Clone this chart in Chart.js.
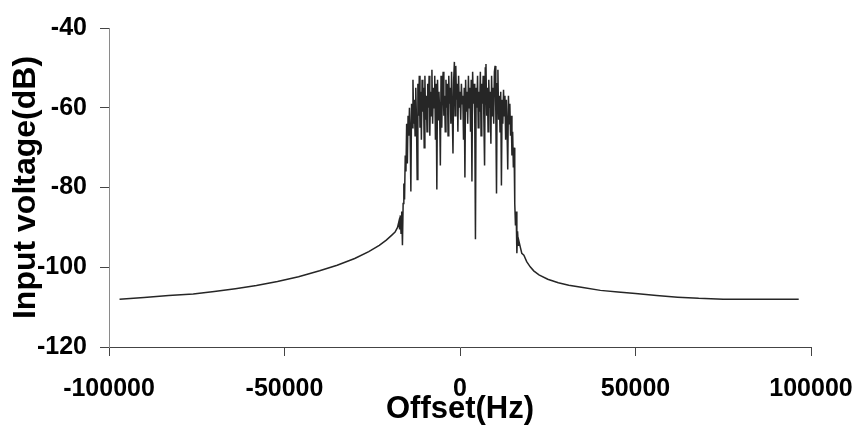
<!DOCTYPE html>
<html>
<head>
<meta charset="utf-8">
<script src="https://cdn.jsdelivr.net/npm/chart.js@4"></script>
<style>
  html, body { margin: 0; padding: 0; background: #fff; }
  #wrap { width: 854px; height: 435px; }
</style>
</head>
<body>
<div id="wrap"><canvas id="spectrumChart" width="854" height="435"></canvas></div>
<script>
// offsets in Hz, values in dB
const tailLeftHz = [-97000, -90000, -83000, -76000, -70000, -64000, -58000, -52000, -46000, -40000,
    -35000, -30000, -26000, -23000, -21000, -19500, -18500, -17800, -17400, -17200,
    -17000, -16800, -16600, -16400, -16200, -16000, -15800, -15600, -15400, -15200];
const tailLeftDb = [-108.0, -107.6, -107.1, -106.7, -106.1, -105.4, -104.6, -103.6, -102.4, -100.9,
    -99.5, -97.8, -96.1, -94.5, -93.2, -92.0, -91.2, -90.0, -88.5, -90.5,
    -87.0, -91.5, -86.0, -94.5, -84.0, -79.0, -83.0, -72.0, -76.0, -64.0];

// in-band samples, every 200 Hz from -15000 to 15000
const bandStartHz = -15000;
const bandStepHz = 200;
const bandDb = [
    -74, -62, -67, -60, -66, -81, -59, -65, -53, -64, -58, -67, -55, -63, -78, -54,
    -62, -52, -65, -56, -68, -53, -61, -55, -70, -52, -63, -57, -66, -54, -60, -52, -67, -56, -62, -50.5,
    -64, -55, -60, -52, -68, -54, -80.5, -53, -63, -56, -61, -74.5, -52, -65, -55, -51, -62, -57, -66, -53,
    -60, -54, -67, -52, -59, -55, -64, -51, -61, -71.5, -53, -48.5, -62, -49.5, -58, -54, -66, -52, -60, -56,
    -63, -54, -59, -57, -68, -55, -77.5, -53, -61, -56, -64, -52, -60, -55, -66, -53, -78.5, -51, -59, -54,
    -62, -93, -55, -60, -52, -65, -56, -61, -51, -67, -54, -59, -52, -63, -74.5, -50, -49, -62, -55, -66,
    -53, -60, -56, -69, -52, -62, -55, -64, -51, -49.5, -61, -81.5, -54, -50.5, -63, -57, -66, -56, -79.5, -58,
    -64, -55.5, -62, -57, -68, -58, -65, -75.5, -57, -64, -59, -67, -62, -72, -66
];

const tailRightHz = [15200, 15400, 15600, 15800, 16000, 16200, 16400, 16600, 16800, 17200,
    17600, 18200, 19000, 20000, 21000, 22500, 25000, 28000, 31000, 35000,
    40000, 45000, 50000, 56000, 62000, 68000, 75000, 85000, 96500];
const tailRightDb = [-75, -70, -84, -89.5, -86, -96.5, -91, -94.5, -93.5, -95,
    -96.5, -97, -98.6, -99.9, -100.9, -101.9, -103.0, -103.9, -104.5, -105.1,
    -105.8, -106.2, -106.6, -107.1, -107.5, -107.8, -108.0, -108.0, -108.0];

const xTicks = [-100000, -50000, 0, 50000, 100000];
const yTicks = [-120, -100, -80, -60, -40];

const points = [];
tailLeftHz.forEach((hz, i) => points.push({ x: hz, y: tailLeftDb[i] }));
bandDb.forEach((db, i) => points.push({ x: bandStartHz + i * bandStepHz, y: db }));
tailRightHz.forEach((hz, i) => points.push({ x: hz, y: tailRightDb[i] }));

const fontFamily = '"Liberation Sans", Arial, sans-serif';
const tickFont = { family: fontFamily, size: 25, weight: 'bold' };

const ctx = document.getElementById('spectrumChart').getContext('2d');
const spectrumChart = new Chart(ctx, {
    type: 'line',
    data: {
        datasets: [{
            data: points,
            borderColor: '#262626',
            borderWidth: 1.5,
            pointRadius: 0,
            tension: 0,
            fill: false
        }]
    },
    options: {
        responsive: false,
        animation: false,
        devicePixelRatio: 1,
        layout: { padding: { left: 0, top: 19, right: 43, bottom: 0 } },
        plugins: { legend: { display: false }, tooltip: { enabled: false } },
        scales: {
            x: {
                type: 'linear',
                min: -100000,
                max: 100000,
                afterBuildTicks: (s) => { s.ticks = xTicks.map(v => ({ value: v })); },
                afterFit: (s) => { s.height = 88; s.paddingRight = 0; },
                border: { color: '#444', width: 1 },
                grid: { drawOnChartArea: false, drawTicks: true, tickLength: 9, color: '#444' },
                ticks: { font: tickFont, color: '#000', padding: 18, maxRotation: 0, callback: (v) => String(v) },
                title: {
                    display: true, text: 'Offset(Hz)', color: '#000',
                    font: { family: fontFamily, size: 31, weight: 'bold', lineHeight: 1 },
                    padding: { top: 0, bottom: 10 }
                }
            },
            y: {
                min: -120,
                max: -40,
                afterBuildTicks: (s) => { s.ticks = yTicks.map(v => ({ value: v })); },
                afterFit: (s) => { s.width = 109; },
                border: { color: '#8a8a8a', width: 1 },
                grid: { drawOnChartArea: false, drawTicks: true, tickLength: 9, color: '#444' },
                ticks: { font: tickFont, color: '#000', padding: 13, callback: (v) => String(v) },
                title: {
                    display: true, text: 'Input voltage(dB)', color: '#000',
                    font: { family: fontFamily, size: 32, weight: 'bold', lineHeight: 1 },
                    padding: { top: 10, bottom: 0 }
                }
            }
        }
    }
});
</script>
</body>
</html>
